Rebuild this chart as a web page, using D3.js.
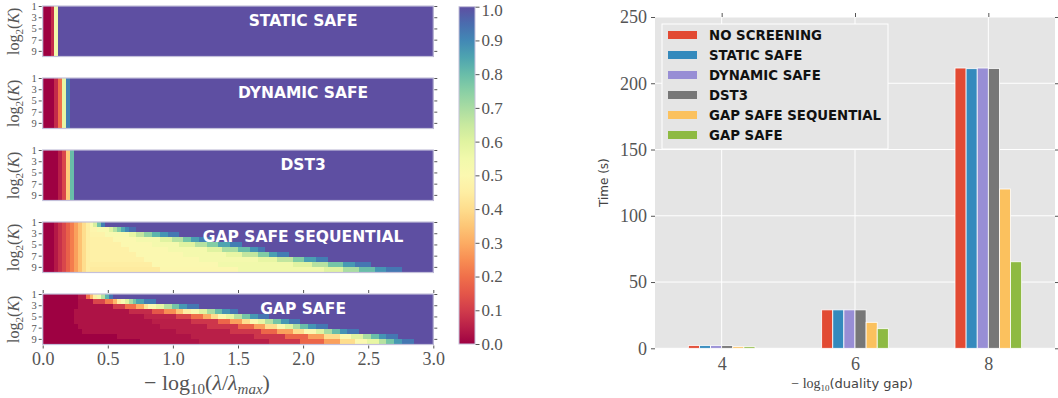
<!DOCTYPE html>
<html><head><meta charset="utf-8">
<script src="https://cdn.jsdelivr.net/npm/d3@7"></script>
<style>
body{margin:0;background:#fff}
text{font-family:"Liberation Serif",serif}
</style>
</head><body>
<svg id="c" width="1058" height="398"></svg>
<script>
// ---------------- DATA ----------------
const panelTitles = ["STATIC SAFE","DYNAMIC SAFE","DST3","GAP SAFE SEQUENTIAL","GAP SAFE"];
const lambdaTicks = [0,0.5,1,1.5,2,2.5,3];
const kTicks = [1,3,5,7,9];
const colorbarTicks = [0,0.1,0.2,0.3,0.4,0.5,0.6,0.7,0.8,0.9,1.0];
const nCols = 100;           // lambda grid columns over [0,3]
const nRows = 10;            // log2(K) rows

// each row: list of [value, endColumn) segments
const staticSafeRow  = [[0,2],[0.07,3],[0.55,4],[1,100]];
const dynamicSafeRow = [[0,3],[0.07,4],[0.2,5],[0.58,6],[0.92,7],[1,100]];
const dst3Row        = [[0,4],[0.05,5],[0.12,6],[0.36,7],[0.8,8],[1,100]];

const seqLeft = [[0,3],[0.04,4],[0.08,5],[0.12,6],[0.17,7],[0.22,8],[0.28,9],[0.34,10],[0.4,11],[0.45,12]];
const gapSafeSeqRows = [
  seqLeft.concat([[0.52,13],[0.62,14],[0.78,15],[0.92,16],[1,100]]),
  seqLeft.concat([[0.48,14],[0.52,17],[0.6,18],[0.68,19],[0.76,20],[0.84,21],[0.9,22],[0.95,24],[1,100]]),
  seqLeft.concat([[0.47,16],[0.52,22],[0.58,24],[0.66,26],[0.74,28],[0.82,30],[0.88,32],[0.93,35],[1,100]]),
  seqLeft.concat([[0.46,18],[0.5,24],[0.54,30],[0.6,33],[0.68,36],[0.78,38],[0.86,40],[0.92,43],[1,100]]),
  seqLeft.concat([[0.46,20],[0.5,28],[0.54,35],[0.6,39],[0.68,42],[0.76,45],[0.85,48],[0.92,51],[1,100]]),
  seqLeft.concat([[0.46,22],[0.5,32],[0.54,42],[0.6,46],[0.7,50],[0.8,53],[0.88,55],[0.93,57],[1,100]]),
  seqLeft.concat([[0.46,24],[0.5,36],[0.54,47],[0.58,51],[0.66,55],[0.76,58],[0.86,60],[0.92,63],[1,100]]),
  seqLeft.concat([[0.46,26],[0.5,40],[0.54,55],[0.58,60],[0.66,64],[0.76,67],[0.86,70],[0.92,73],[1,100]]),
  seqLeft.concat([[0.45,28],[0.5,45],[0.55,64],[0.6,69],[0.68,73],[0.78,77],[0.87,80],[0.93,84],[1,100]]),
  seqLeft.concat([[0.44,30],[0.49,50],[0.55,72],[0.6,77],[0.7,81],[0.8,85],[0.88,88],[0.93,92],[1,100]])
];

const gapSafeRows = [
  [[0,9],[0.04,11],[0.2,12],[0.32,13],[0.45,14],[0.55,15],[0.68,16],[0.82,17],[0.93,18],[1,100]],
  [[0,9],[0.03,13],[0.12,16],[0.22,18],[0.32,19],[0.45,20],[0.52,21],[0.6,22],[0.7,23],[0.78,24],[0.85,26],[0.92,29],[1,100]],
  [[0,9],[0.03,18],[0.1,21],[0.2,24],[0.3,26],[0.42,27],[0.5,29],[0.58,31],[0.68,33],[0.78,35],[0.87,37],[0.93,40],[1,100]],
  [[0,8],[0.03,22],[0.07,28],[0.15,31],[0.25,34],[0.35,36],[0.45,38],[0.52,40],[0.6,42],[0.7,44],[0.8,46],[0.88,48],[0.93,50],[1,100]],
  [[0,8],[0.03,26],[0.06,34],[0.12,38],[0.2,41],[0.3,43],[0.4,45],[0.5,47],[0.58,49],[0.68,51],[0.78,53],[0.87,55],[0.93,58],[1,100]],
  [[0,8],[0.03,28],[0.05,38],[0.09,45],[0.18,48],[0.28,51],[0.4,53],[0.5,55],[0.58,57],[0.68,59],[0.78,61],[0.87,63],[0.93,66],[1,100]],
  [[0,9],[0.03,30],[0.05,42],[0.09,50],[0.18,54],[0.28,57],[0.4,60],[0.5,62],[0.6,64],[0.7,66],[0.8,68],[0.88,70],[0.93,73],[1,100]],
  [[0,10],[0.03,34],[0.05,48],[0.09,56],[0.18,60],[0.28,64],[0.4,67],[0.5,70],[0.6,72],[0.7,74],[0.8,76],[0.88,78],[0.93,81],[1,100]],
  [[0,19],[0.03,38],[0.05,54],[0.09,62],[0.18,68],[0.28,72],[0.4,76],[0.5,79],[0.6,82],[0.7,84],[0.8,86],[0.88,88],[0.93,91],[1,100]],
  [[0,25],[0.03,40],[0.05,58],[0.09,66],[0.18,72],[0.28,76],[0.4,80],[0.5,83],[0.58,86],[0.68,88],[0.78,90],[0.87,92],[0.93,95],[1,100]]
];

const gapLevels = [4,6,8];
const methods = ["NO SCREENING","STATIC SAFE","DYNAMIC SAFE","DST3","GAP SAFE SEQUENTIAL","GAP SAFE"];
const methodColors = ["#E24A33","#348ABD","#988ED5","#777777","#FBC15E","#8EBA42"];
const timesNoScreening = [2.0, 29.0, 211.5];
const timesStaticSafe  = [2.0, 29.0, 211.0];
const timesDynamicSafe = [2.0, 29.0, 211.5];
const timesDst3        = [2.0, 29.0, 211.2];
const timesGapSafeSeq  = [1.2, 19.6, 120.2];
const timesGapSafe     = [1.2, 14.8, 65.3];
const timeTicks = [0,50,100,150,200,250];

// ---------------- HELPERS ----------------
function expand(segs){
  const out=[]; let s=0;
  for(const [v,e] of segs){ for(let c=s;c<e;c++) out.push(v); s=e; }
  return out;
}
const panelRows = [
  d3.range(nRows).map(()=>expand(staticSafeRow)),
  d3.range(nRows).map(()=>expand(dynamicSafeRow)),
  d3.range(nRows).map(()=>expand(dst3Row)),
  gapSafeSeqRows.map(expand),
  gapSafeRows.map(expand)
];

const svg = d3.select("#c");
const tickColor = "#555";
const labelColor = "#555";
function styleAxis(g, fs){
  g.select(".domain").remove();
  g.selectAll(".tick line").attr("stroke",tickColor).attr("stroke-width",1);
  g.selectAll(".tick text").attr("fill",labelColor).style("font-family","'Liberation Serif',serif").style("font-size",fs+"px");
}

// ---------------- HEATMAPS ----------------
const heatX = d3.scaleLinear().domain([0,3]).range([42.7,433.3]);
const panelTop = d3.scaleLinear().domain([0,4]).range([6,294]);
const panelH = 50.5;
const colW = 3/nCols;

panelRows.forEach((rows,p)=>{
  const top = panelTop(p);
  const yK = d3.scaleLinear().domain([1,10]).range([top, top+panelH]);
  const g = svg.append("g");
  const cells = [];
  rows.forEach((row,r)=>row.forEach((v,c)=>cells.push({r,c,v})));
  g.append("g").attr("shape-rendering","crispEdges").selectAll("rect").data(cells).join("rect")
    .attr("x",d=>heatX(d.c*colW))
    .attr("width",d=>heatX((d.c+1)*colW)-heatX(d.c*colW)+0.6)
    .attr("y",d=>yK(1+d.r*0.9))
    .attr("height",d=>yK(1+(d.r+1)*0.9)-yK(1+d.r*0.9)+0.6)
    .attr("fill",d=>d3.interpolateSpectral(d.v));
  g.append("rect").attr("x",heatX(0)).attr("y",top).attr("width",heatX(3)-heatX(0)).attr("height",panelH)
    .attr("fill","none").attr("stroke","#c4c0da").attr("stroke-width",1.2);
  // y axes
  const ax = g.append("g").attr("transform",`translate(${heatX(0)-1},0)`)
    .call(d3.axisLeft(yK).tickValues(kTicks).tickSize(3).tickPadding(2).tickFormat(d3.format("d")));
  styleAxis(ax, 10.5);
  const axr = g.append("g").attr("transform",`translate(${heatX(3)+1},0)`)
    .call(d3.axisRight(yK).tickValues(kTicks).tickSize(3).tickFormat(""));
  styleAxis(axr, 10);
  // y label
  const yl = g.append("text").attr("transform",`translate(19,${top+panelH/2}) rotate(-90)`)
    .attr("text-anchor","middle").attr("fill",labelColor).style("font-size","16px");
  yl.append("tspan").text("log");
  yl.append("tspan").attr("dy",4).style("font-size","11px").text("2");
  yl.append("tspan").attr("dy",-4).text("(");
  yl.append("tspan").style("font-style","italic").text("K");
  yl.append("tspan").text(")");
  // title
  g.append("text").attr("x",heatX(2)).attr("y",top+14.5).attr("text-anchor","middle")
    .attr("dominant-baseline","central").attr("fill","#fff")
    .style("font-family","'DejaVu Sans',sans-serif").style("font-weight","bold").style("font-size","15.5px")
    .text(panelTitles[p]);
  if(p===4){
    const bx = g.append("g").attr("transform",`translate(0,${top+panelH+1})`)
      .call(d3.axisBottom(heatX).tickValues(lambdaTicks).tickSize(3).tickPadding(4).tickFormat(d3.format(".1f")));
    styleAxis(bx, 18);
    const tx = g.append("g").attr("transform",`translate(0,${top-1})`)
      .call(d3.axisTop(heatX).tickValues(lambdaTicks).tickSize(3).tickFormat(""));
    styleAxis(tx, 10);
  }
});
// x label left
{
  const t = svg.append("text").attr("x",207).attr("y",390).attr("text-anchor","middle")
    .attr("fill",labelColor).style("font-size","22px");
  t.append("tspan").text("\u2212 log");
  t.append("tspan").attr("dy",4).style("font-size","15px").text("10");
  t.append("tspan").attr("dy",-4).text("(");
  t.append("tspan").style("font-style","italic").text("\u03bb");
  t.append("tspan").text("/");
  t.append("tspan").style("font-style","italic").text("\u03bb");
  t.append("tspan").attr("dy",4).style("font-size","15px").style("font-style","italic").text("max");
  t.append("tspan").attr("dy",-4).text(")");
}

// ---------------- COLORBAR ----------------
const cbY = d3.scaleLinear().domain([0,1]).range([344,6.7]);
const defs = svg.append("defs");
const grad = defs.append("linearGradient").attr("id","cbg").attr("x1",0).attr("y1",1).attr("x2",0).attr("y2",0);
d3.range(0,1.0001,0.05).forEach(t=>grad.append("stop").attr("offset",t).attr("stop-color",d3.interpolateSpectral(t)));
svg.append("rect").attr("x",459).attr("y",cbY(1)).attr("width",16).attr("height",cbY(0)-cbY(1))
  .attr("fill","url(#cbg)").attr("stroke","#c4c0da").attr("stroke-width",1);
const cba = svg.append("g").attr("transform","translate(475.5,0)")
  .call(d3.axisRight(cbY).tickValues(colorbarTicks).tickSize(4).tickPadding(2).tickFormat(d3.format(".1f")));
styleAxis(cba, 17);
cba.selectAll(".tick text").filter(d=>d===1).attr("dy","0.5em");

// ---------------- BAR CHART ----------------
const bx = d3.scaleLinear().domain([3,9]).range([655,1055]);
const by = d3.scaleLinear().domain([0,250]).range([348.3,17]);
const series = [timesNoScreening,timesStaticSafe,timesDynamicSafe,timesDst3,timesGapSafeSeq,timesGapSafe];
const bg = svg.append("g");
bg.append("rect").attr("x",bx(3)).attr("y",by(250)).attr("width",bx(9)-bx(3)).attr("height",by(0)-by(250)).attr("fill","#E5E5E5");
bg.selectAll("line.gy").data(timeTicks).join("line").attr("x1",bx(3)).attr("x2",bx(9))
  .attr("y1",d=>by(d)).attr("y2",d=>by(d)).attr("stroke","#fff").attr("stroke-width",1);
bg.selectAll("line.gx").data(gapLevels).join("line").attr("y1",by(0)).attr("y2",by(250))
  .attr("x1",d=>bx(d)).attr("x2",d=>bx(d)).attr("stroke","#fff").attr("stroke-width",1);
const barW = 1/6;
series.forEach((vals,i)=>{
  bg.selectAll(null).data(vals).join("rect")
    .attr("x",(d,j)=>bx(gapLevels[j]-0.5+i*barW))
    .attr("width",bx(3+barW)-bx(3))
    .attr("y",d=>by(d)).attr("height",d=>by(0)-by(d))
    .attr("fill",methodColors[i]).attr("stroke","#fff").attr("stroke-width",0.8);
});
const yAx = bg.append("g").attr("transform",`translate(${bx(3)},0)`)
  .call(d3.axisLeft(by).tickValues(timeTicks).tickSize(4).tickPadding(4).tickFormat(d3.format("d")));
styleAxis(yAx, 18);
const yAxR = bg.append("g").attr("transform",`translate(${bx(9)},0)`)
  .call(d3.axisRight(by).tickValues(timeTicks).tickSize(4).tickFormat(""));
styleAxis(yAxR, 10);
const xAx = bg.append("g").attr("transform",`translate(0,${by(0)})`)
  .call(d3.axisBottom(bx).tickValues(gapLevels).tickSize(0).tickPadding(9).tickFormat(d3.format("d")));
styleAxis(xAx, 18);
const xAxT = bg.append("g").attr("transform",`translate(0,${by(250)})`)
  .call(d3.axisTop(bx).tickValues(gapLevels).tickSize(4).tickFormat(""));
styleAxis(xAxT, 10);
// axis labels
bg.append("text").attr("transform",`translate(608,${(by(0)+by(250))/2}) rotate(-90)`).attr("text-anchor","middle")
  .attr("fill","#444").style("font-family","'DejaVu Sans',sans-serif").style("font-size","12px").text("Time (s)");
{
  const t = bg.append("text").attr("x",852).attr("y",388).attr("text-anchor","middle").attr("fill","#444").style("font-size","14px");
  t.append("tspan").style("font-family","'Liberation Serif',serif").text("\u2212 log");
  t.append("tspan").attr("dy",3).style("font-size","9px").style("font-family","'Liberation Serif',serif").text("10");
  t.append("tspan").attr("dy",-3).style("font-family","'DejaVu Sans',sans-serif").style("font-size","13px").text("(duality gap)");
}
// legend
const lg = bg.append("g");
lg.append("rect").attr("x",662).attr("y",24).attr("width",226).attr("height",125).attr("fill","#E5E5E5").attr("stroke","#fff").attr("stroke-width",1);
methods.forEach((m,i)=>{
  const cy = 35 + i*20;
  lg.append("rect").attr("x",668).attr("y",cy-4).attr("width",29).attr("height",8).attr("fill",methodColors[i]);
  lg.append("text").attr("x",709).attr("y",cy).attr("dominant-baseline","central")
    .style("font-family","'DejaVu Sans',sans-serif").style("font-weight","bold").style("font-size","13.3px").attr("fill","#111").text(m);
});
</script>
</body></html>
